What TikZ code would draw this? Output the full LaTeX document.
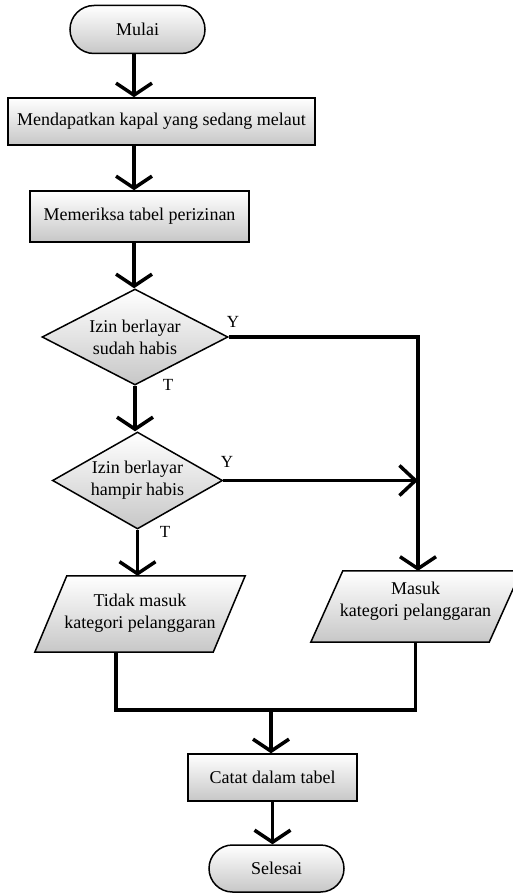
\documentclass[tikz,border=0pt]{standalone}
\usepackage{fontspec}
\setmainfont{Liberation Serif}
\usetikzlibrary{shapes.geometric,shapes.misc,arrows.meta,backgrounds}
\begin{document}
\begin{tikzpicture}[x=1pt,y=-1pt,
  shapebase/.style={draw, line width=1.5pt, top color=white, bottom color=black!22,
    font=\fontsize{18}{22}\selectfont, align=center, inner sep=0pt},
  terminal/.style={shapebase, rounded rectangle, minimum width=135pt, minimum height=48pt},
  procbox/.style={shapebase, rectangle},
  decision/.style={shapebase, diamond, aspect=2},
  paratext/.style={font=\fontsize{18}{22}\selectfont, align=center, inner sep=0pt},
  parashape/.style={draw, line width=1.5pt, top color=white, bottom color=black!22},
  lbl/.style={font=\fontsize{17}{20}\selectfont, inner sep=0pt},
  conn/.style={line width=3.5pt, -{Straight Barb[length=12pt,width=36pt]}},
  sideconn/.style={line width=3.5pt, -{Straight Barb[length=16pt,width=30pt]}},
  plain/.style={line width=3.5pt}
]
\useasboundingbox (0,0) rectangle (513,893);

\node[terminal] (mulai) at (137.5,29.5) {Mulai};
\node[procbox, minimum width=307pt, minimum height=47pt] (b1) at (161.5,121.5) {Mendapatkan kapal yang sedang melaut};
\node[procbox, minimum width=219pt, minimum height=51pt] (b2) at (139.5,216.5) {Memeriksa tabel perizinan};
\node[decision, minimum width=186pt, minimum height=96pt] (d1) at (135,337) {Izin berlayar\\sudah habis};
\node[decision, minimum width=159pt, minimum height=97pt] (d2) at (137.5,480.5) {Izin berlayar\\hampir habis};
\node[paratext, minimum width=210pt, minimum height=76pt] (p1) at (140,613) {Tidak masuk\\kategori pelanggaran};
\node[paratext, minimum width=211pt, minimum height=71pt] (p2) at (415.5,601) {Masuk\\kategori pelanggaran};
\node[procbox, minimum width=169pt, minimum height=47pt] (catat) at (272.5,777.5) {Catat dalam tabel};
\node[terminal, minimum height=47pt] (selesai) at (276.5,868.5) {Selesai};

\coordinate (p1bl) at ([yshift=-1pt]p1.south west);
\coordinate (p1br) at ([xshift=-32pt,yshift=-1pt]p1.south east);
\coordinate (p1tr) at ([yshift=-1pt]p1.north east);
\coordinate (p1tl) at ([xshift=32pt,yshift=-1pt]p1.north west);
\coordinate (p1bot) at ([yshift=-1pt]p1.south);
\coordinate (p2bl) at ([xshift=1pt,yshift=-5.5pt]p2.south west);
\coordinate (p2br) at ([xshift=-32pt,yshift=-5.5pt]p2.south east);
\coordinate (p2tr) at ([yshift=-5.5pt]p2.north east);
\coordinate (p2tl) at ([xshift=33pt,yshift=-5.5pt]p2.north west);
\coordinate (p2top) at ([yshift=-5.5pt]p2.north);
\coordinate (p2bot) at ([yshift=-5.5pt]p2.south);

\begin{scope}[on background layer]
\draw[parashape] (p1bl) -- (p1br) -- (p1tr) -- (p1tl) -- cycle;
\draw[parashape] (p2bl) -- (p2br) -- (p2tr) -- (p2tl) -- cycle;
\end{scope}

\node[lbl] (y1) at (233,322) {Y};
\node[lbl] (t1) at (168,385) {T};
\node[lbl] (y2) at (227,462) {Y};
\node[lbl] (t2) at (165,532) {T};

\coordinate (ax) at (134,0);
\coordinate (vx) at (418,0);
\coordinate (px1) at (116,0);
\coordinate (j) at (271,710);

\draw[conn] (mulai.south -| ax) -- (ax |- b1.north);
\draw[conn] (ax |- b1.south) -- (ax |- b2.north);
\draw[conn] (ax |- b2.south) -- (ax |- d1.north);
\draw[conn] (d1.south) -- (d1.south |- d2.north);
\draw[conn] (d2.south) -- (d2.south |- p1tl);
\draw[conn] (d1.east) -- (vx |- d1.east) -- (vx |- p2top);
\draw[sideconn] (d2.east) -- (vx |- d2.east);
\draw[plain] (px1 |- p1bot) -- (px1 |- j) -| (p2bot);
\draw[conn] (j) -- (j |- catat.north);
\draw[conn] (catat.south) -- (catat.south |- selesai.north);
\end{tikzpicture}
\end{document}
